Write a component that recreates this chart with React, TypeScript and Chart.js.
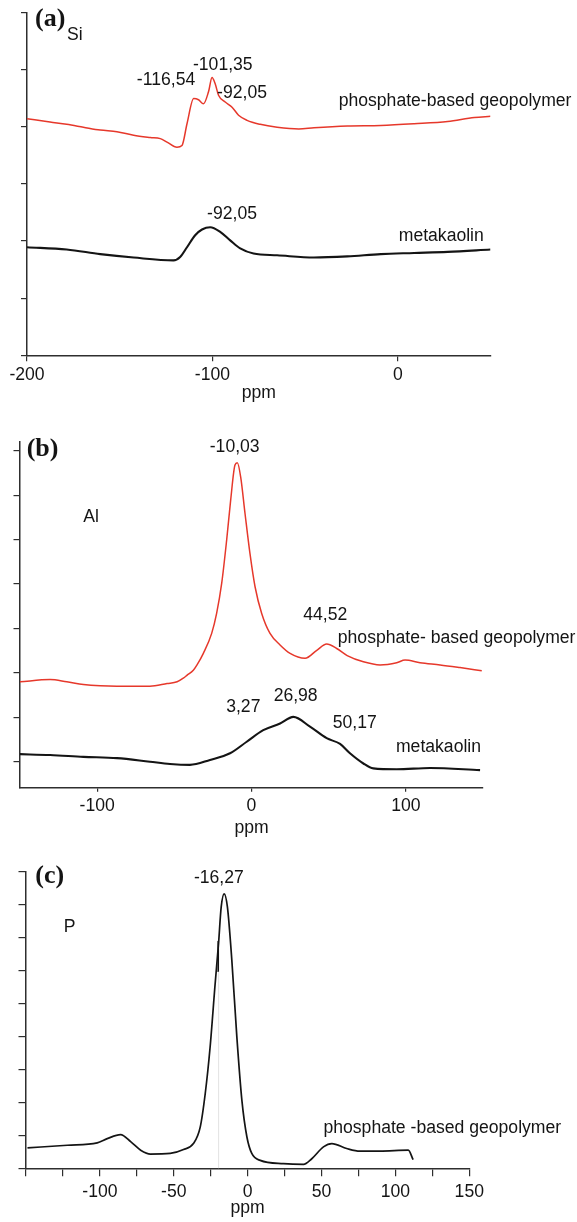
import React, { useEffect, useRef } from "react";
import { Chart, registerables } from "chart.js";
Chart.register(...registerables);

// ---------- Panel (a): 29Si ----------
const siGeoPpm = [-200, -187.6, -178.6, -169.6, -160.5, -151.5, -142.5, -133.5, -128.1, -124.5, -119.1, -116.4, -113.7, -110.1, -107.5, -104.8, -102.1, -100.2, -98.5, -96.7, -93.1, -89.4, -85.9, -81.3, -74.2, -65.1, -53.4, -45.2, -27.2, -9.2, 8.8, 26.9, 41.3, 50];
const siGeoVal = [4.14, 4.08, 4.04, 3.99, 3.94, 3.91, 3.85, 3.81, 3.79, 3.73, 3.64, 3.67, 4.05, 4.49, 4.47, 4.40, 4.61, 4.86, 4.75, 4.55, 4.43, 4.34, 4.20, 4.11, 4.04, 3.99, 3.96, 3.98, 4.01, 4.02, 4.05, 4.09, 4.16, 4.18];
const siMetaPpm = [-200, -178.6, -160.5, -142.5, -121, -117.4, -113.7, -109.3, -105.6, -101.2, -95.8, -90.4, -85, -77.8, -65.1, -45.2, -27.2, -9.2, 8.8, 26.9, 50];
const siMetaVal = [1.89, 1.85, 1.77, 1.71, 1.66, 1.72, 1.89, 2.10, 2.20, 2.24, 2.16, 2.01, 1.87, 1.78, 1.75, 1.71, 1.73, 1.77, 1.79, 1.81, 1.85];
const siXTicks = [-200, -100, 0];
const siYTicks = [0, 1, 2, 3, 4, 5, 6];

// ---------- Panel (b): 27Al ----------
const alGeoPpm = [-150, -130.5, -119.7, -108.9, -98, -87.2, -76.4, -65.8, -54.7, -48.2, -44.2, -41.7, -37.7, -35.3, -31.2, -25.8, -22.6, -19.3, -16.1, -13.5, -10.7, -9.2, -7.0, -4.2, -1.0, 2.3, 6.6, 12, 18.5, 25, 34.7, 42.3, 48.7, 55.2, 62, 72.5, 83.3, 94.1, 99.5, 109.2, 122.2, 135.1, 149.2];
const alGeoVal = [1.80, 1.85, 1.80, 1.74, 1.71, 1.70, 1.70, 1.70, 1.76, 1.80, 1.88, 1.95, 2.06, 2.18, 2.44, 2.89, 3.34, 4.02, 4.99, 5.89, 6.68, 6.73, 6.41, 5.59, 4.69, 3.94, 3.34, 2.89, 2.63, 2.44, 2.33, 2.51, 2.65, 2.55, 2.39, 2.25, 2.18, 2.23, 2.29, 2.23, 2.18, 2.12, 2.05];
const alMetaPpm = [-150, -130.5, -108.9, -87.2, -65.8, -52.8, -39.9, -26.9, -13.9, -3.1, 7.6, 18.5, 27.1, 37.9, 48.7, 57.4, 63.8, 72.5, 78.9, 94.1, 115.7, 148.1];
const alMetaVal = [0.17, 0.15, 0.11, 0.08, 0.0, -0.05, -0.07, 0.04, 0.19, 0.45, 0.71, 0.86, 1.01, 0.79, 0.53, 0.40, 0.19, -0.04, -0.15, -0.17, -0.14, -0.19];
const alXTicks = [-100, 0, 100];
const alYTicks = [0, 1, 2, 3, 4, 5, 6, 7];

// ---------- Panel (c): 31P ----------
const pPpm = [-149, -122, -101.8, -95, -86, -79, -72.4, -65.8, -52.4, -43.4, -36.7, -32.1, -28.7, -25.4, -22, -19.7, -17.9, -15.9, -13.7, -10.7, -7.3, -3.9, -0.5, 2.8, 8.5, 24.2, 37.8, 43.4, 51.3, 57, 67, 76, 89.5, 108.7, 112];
const pVal = [0.62, 0.70, 0.77, 0.90, 1.02, 0.80, 0.55, 0.43, 0.45, 0.57, 0.75, 1.25, 2.27, 3.68, 5.60, 6.82, 7.93, 8.33, 7.93, 6.31, 3.98, 2.06, 0.95, 0.45, 0.24, 0.14, 0.12, 0.29, 0.65, 0.75, 0.60, 0.52, 0.52, 0.55, 0.26];
const pSpikePpm = [-19.9, -19.9];
const pSpikeVal = [6.9, 5.96];
const pGuidePpm = [-19.7, -19.7];
const pGuideVal = [5.96, 0];
const pXTicks = [-150, -125, -100, -75, -50, -25, 0, 25, 50, 75, 100, 125, 150];
const pXLabelled = [-100, -50, 0, 50, 100, 150];
const pYTicks = [0, 1, 2, 3, 4, 5, 6, 7, 8, 9];

const SANS = '"Liberation Sans", Arial, Helvetica, sans-serif';
const SERIF = '"Liberation Serif", "Times New Roman", serif';
const FS = 17.6;
const RED = "#e6382b";
const INK = "#141414";
const AXIS = "#2e2e2e";

type Note = { text: string; x: number; y: number; align: CanvasTextAlign; serif?: boolean };

const pts = (xs: number[], ys: number[]) => xs.map((x, i) => ({ x, y: ys[i] }));

type Spec = {
  top: number; height: number; padTop: number; padRight: number;
  yWidth: number; xHeight: number;
  xMin: number; xMax: number; xTicks: number[]; xLabelled: number[];
  xTickLen: number; xTickPad: number; titlePad: number;
  yMin: number; yMax: number; yTicks: number[]; yTickLen: number;
  datasets: any[]; notes: Note[];
};

const lineDs = (data: any[], color: string, width: number, smooth = true) => ({
  data, borderColor: color, borderWidth: width, pointRadius: 0, fill: false,
  cubicInterpolationMode: smooth ? "monotone" : "default", tension: 0,
});

const specs: Spec[] = [
  {
    top: 0, height: 405, padTop: 12.3, padRight: 86.5, yWidth: 27, xHeight: 49.7,
    xMin: -200, xMax: 50, xTicks: siXTicks, xLabelled: siXTicks, xTickLen: 6, xTickPad: 3.3, titlePad: 1.6,
    yMin: 0, yMax: 6, yTicks: siYTicks, yTickLen: 6,
    datasets: [
      lineDs(pts(siGeoPpm, siGeoVal), RED, 1.5),
      lineDs(pts(siMetaPpm, siMetaVal), INK, 2.1),
    ],
    notes: [
      { text: "(a)", x: -195.7, y: 5.88, align: "left", serif: true },
      { text: "Si", x: -178.4, y: 5.6, align: "left" },
      { text: "-116,54", x: -125, y: 4.82, align: "center" },
      { text: "-101,35", x: -94.4, y: 5.08, align: "center" },
      { text: "-92,05", x: -84, y: 4.59, align: "center" },
      { text: "phosphate-based geopolymer", x: -31.9, y: 4.45, align: "left" },
      { text: "-92,05", x: -89.4, y: 2.47, align: "center" },
      { text: "metakaolin", x: 0.5, y: 2.09, align: "left" },
    ],
  },
  {
    top: 405, height: 435, padTop: 37, padRight: 94, yWidth: 20, xHeight: 52.3,
    xMin: -150, xMax: 150, xTicks: alXTicks, xLabelled: alXTicks, xTickLen: 4, xTickPad: 3.6, titlePad: 1.3,
    yMin: -0.585, yMax: 7.2, yTicks: alYTicks, yTickLen: 6.5,
    datasets: [
      lineDs(pts(alGeoPpm, alGeoVal), RED, 1.5),
      lineDs(pts(alMetaPpm, alMetaVal), INK, 2.1),
    ],
    notes: [
      { text: "(b)", x: -145.7, y: 7.04, align: "left", serif: true },
      { text: "-10,03", x: -10.9, y: 7.08, align: "center" },
      { text: "Al", x: -109, y: 5.5, align: "left" },
      { text: "44,52", x: 47.8, y: 3.3, align: "center" },
      { text: "phosphate- based geopolymer", x: 55.9, y: 2.78, align: "left" },
      { text: "3,27", x: -5.3, y: 1.24, align: "center" },
      { text: "26,98", x: 28.6, y: 1.48, align: "center" },
      { text: "50,17", x: 66.9, y: 0.86, align: "center" },
      { text: "metakaolin", x: 93.6, y: 0.32, align: "left" },
    ],
  },
  {
    top: 840, height: 382, padTop: 31.7, padRight: 107.7, yWidth: 26, xHeight: 53.7,
    xMin: -150, xMax: 150, xTicks: pXTicks, xLabelled: pXLabelled, xTickLen: 8, xTickPad: 5, titlePad: 3.6,
    yMin: 0, yMax: 9, yTicks: pYTicks, yTickLen: 7.5,
    datasets: [
      lineDs(pts(pGuidePpm, pGuideVal), "#e4e4e4", 0.8, false),
      lineDs(pts(pPpm, pVal), INK, 1.7),
      lineDs(pts(pSpikePpm, pSpikeVal), INK, 1.6, false),
    ],
    notes: [
      { text: "(c)", x: -143.7, y: 8.85, align: "left", serif: true },
      { text: "-16,27", x: -19.5, y: 8.8, align: "center" },
      { text: "P", x: -124.5, y: 7.33, align: "left" },
      { text: "phosphate -based geopolymer", x: 51.3, y: 1.21, align: "left" },
    ],
  },
];

function Panel({ spec }: { spec: Spec }) {
  const ref = useRef<HTMLCanvasElement | null>(null);
  useEffect(() => {
    if (!ref.current) return;
    const notesPlugin = {
      id: "notes",
      afterDatasetsDraw(chart: any) {
        const { ctx, scales } = chart;
        ctx.save();
        for (const n of spec.notes) {
          ctx.font = n.serif ? `bold 26px ${SERIF}` : `${FS}px ${SANS}`;
          ctx.fillStyle = INK;
          ctx.textAlign = n.align;
          ctx.textBaseline = "middle";
          ctx.fillText(n.text, scales.x.getPixelForValue(n.x), scales.y.getPixelForValue(n.y));
        }
        ctx.restore();
      },
    };
    const chart = new Chart(ref.current, {
      type: "line",
      data: { datasets: spec.datasets as any },
      plugins: [notesPlugin],
      options: {
        responsive: false,
        animation: false,
        devicePixelRatio: 1,
        layout: { padding: { top: spec.padTop, right: spec.padRight, left: 0, bottom: 0 } },
        plugins: { legend: { display: false }, tooltip: { enabled: false } },
        scales: {
          x: {
            type: "linear",
            min: spec.xMin,
            max: spec.xMax,
            afterBuildTicks: (s: any) => { s.ticks = spec.xTicks.map((v) => ({ value: v })); },
            afterFit: (s: any) => { s.height = spec.xHeight; },
            ticks: {
              autoSkip: false,
              maxRotation: 0,
              padding: spec.xTickPad,
              color: INK,
              font: { size: FS, family: SANS },
              callback: (v: any) => (spec.xLabelled.includes(Number(v)) ? String(v) : ""),
            },
            grid: { drawOnChartArea: false, drawTicks: true, tickLength: spec.xTickLen, color: AXIS, lineWidth: 1.2 },
            border: { display: true, color: AXIS, width: 1.5 },
            title: {
              display: true, text: "ppm", color: INK,
              font: { size: FS, family: SANS },
              padding: { top: 0, bottom: spec.titlePad },
            },
          },
          y: {
            type: "linear",
            min: spec.yMin,
            max: spec.yMax,
            afterBuildTicks: (s: any) => { s.ticks = spec.yTicks.map((v) => ({ value: v })); },
            afterFit: (s: any) => { s.width = spec.yWidth; },
            ticks: { callback: () => "", padding: 0 },
            grid: { drawOnChartArea: false, drawTicks: true, tickLength: spec.yTickLen, color: AXIS, lineWidth: 1.2 },
            border: { display: true, color: AXIS, width: 1.5 },
          },
        },
      } as any,
    });
    return () => chart.destroy();
  }, [spec]);
  return (
    <canvas
      ref={ref}
      width={577}
      height={spec.height}
      style={{ position: "absolute", left: 0, top: spec.top, width: 577, height: spec.height, display: "block" }}
    />
  );
}

export default function App() {
  return (
    <div style={{ position: "absolute", left: 0, top: 0, width: 577, height: 1222, background: "#fff" }}>
      {specs.map((s, i) => (
        <Panel key={i} spec={s} />
      ))}
    </div>
  );
}
